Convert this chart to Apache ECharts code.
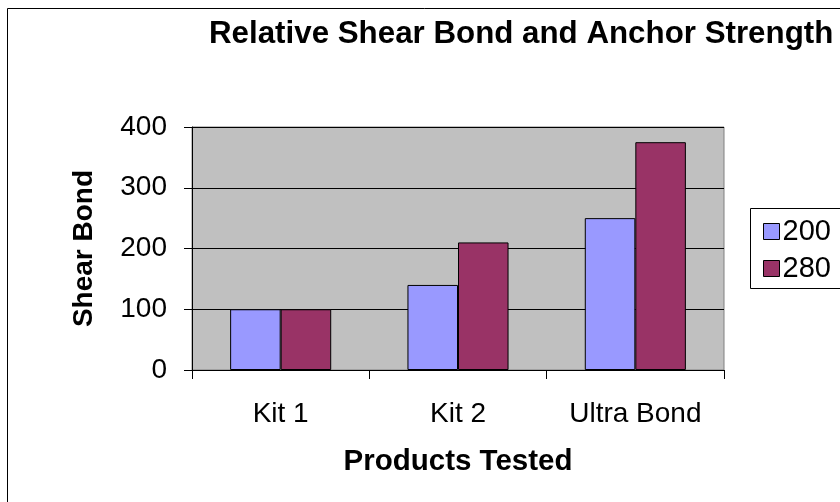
<!DOCTYPE html>
<html>
<head>
<meta charset="utf-8">
<script src="https://cdn.jsdelivr.net/npm/echarts@6/dist/echarts.min.js"></script>
<style>
html,body{margin:0;padding:0;background:#fff;}
#chart{width:840px;height:502px;}
</style>
</head>
<body>
<div id="chart"></div>
<script>
const categories = ['Kit 1', 'Kit 2', 'Ultra Bond'];
const series200 = [100, 140, 250];
const series280 = [100, 210, 375];
const seriesNames = ['200', '280'];
const yTicks = { min: 0, max: 400, interval: 100 };

const FONT = '"Liberation Sans", Arial, sans-serif';
const chart = echarts.init(document.getElementById('chart'), null, { renderer: 'canvas' });
chart.setOption({
  animation: false,
  backgroundColor: '#fff',
  title: {
    text: 'Relative Shear Bond and Anchor Strength',
    left: 209, top: 19, padding: 0,
    textStyle: { fontFamily: FONT, fontSize: 31.3, fontWeight: 'bold', color: '#000' }
  },
  graphic: [
    {
      type: 'rect', silent: true, z: -1,
      shape: { x: 7.5, y: 8.5, width: 1000, height: 1000 },
      style: { fill: 'none', stroke: '#000', lineWidth: 1 }
    },
    {
      type: 'rect', silent: true, z: -1,
      shape: { x: 750.5, y: 208.5, width: 200, height: 80 },
      style: { fill: '#fff', stroke: '#000', lineWidth: 1 }
    }
  ],
  legend: {
    orient: 'vertical',
    left: 750, top: 208,
    padding: [9, 13, 7, 13],
    itemGap: 8,
    itemWidth: 16, itemHeight: 16,
    icon: 'rect',
    borderWidth: 0,
    itemStyle: { borderColor: '#000', borderWidth: 1 },
    textStyle: { fontFamily: FONT, fontSize: 29, color: '#000', padding: [0, 0, 0, -2] },
    data: seriesNames
  },
  grid: {
    left: 192, top: 127, right: 116, bottom: 132,
    show: true, backgroundColor: '#c0c0c0', borderColor: '#808080', borderWidth: 1
  },
  xAxis: {
    type: 'category',
    data: categories,
    name: 'Products Tested',
    nameLocation: 'middle',
    nameGap: 77,
    nameTextStyle: { fontFamily: FONT, fontSize: 29.5, fontWeight: 'bold', color: '#000' },
    axisLine: { lineStyle: { color: '#000', width: 1 } },
    axisTick: { show: true, length: 9, lineStyle: { color: '#000' } },
    axisLabel: { fontFamily: FONT, fontSize: 28, color: '#000', margin: 30 },
    splitLine: { show: false }
  },
  yAxis: {
    type: 'value',
    min: yTicks.min, max: yTicks.max, interval: yTicks.interval,
    name: 'Shear Bond',
    nameLocation: 'middle',
    nameGap: 94,
    nameTextStyle: { fontFamily: FONT, fontSize: 28, fontWeight: 'bold', color: '#000' },
    axisLine: { show: true, lineStyle: { color: '#000', width: 1 } },
    axisTick: { show: true, length: 8, lineStyle: { color: '#000' } },
    axisLabel: { fontFamily: FONT, fontSize: 28, color: '#000', margin: 25, padding: [7, 0, 0, 0] },
    splitLine: { show: true, lineStyle: { color: '#000', width: 1 } }
  },
  series: [
    {
      name: seriesNames[0], type: 'bar', data: series200,
      barGap: '0%', barCategoryGap: '43%',
      itemStyle: { color: '#9999ff', borderColor: '#000', borderWidth: 1 }
    },
    {
      name: seriesNames[1], type: 'bar', data: series280,
      barGap: '0%', barCategoryGap: '43%',
      itemStyle: { color: '#993366', borderColor: '#000', borderWidth: 1 }
    }
  ]
});
</script>
</body>
</html>
